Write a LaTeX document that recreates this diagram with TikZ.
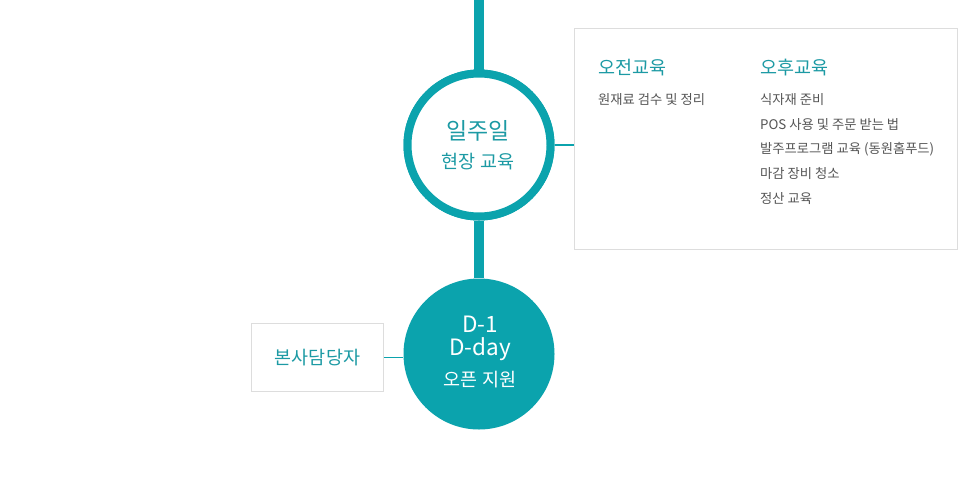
\documentclass[tikz,border=0pt]{standalone}
\usepackage{fontspec}
\setmainfont{Noto Sans CJK KR}
\definecolor{teal1}{HTML}{0BA3AD}
\definecolor{tealtxt}{HTML}{1C9AA4}
\definecolor{graytxt}{HTML}{555555}
\definecolor{boxline}{HTML}{DDDDDD}
\begin{document}
\begin{tikzpicture}[x=1pt,y=-1pt,
  ring/.style={circle,draw=teal1,line width=8pt,fill=white,minimum size=143pt,inner sep=0pt},
  disc/.style={circle,fill=teal1,minimum size=151pt,inner sep=0pt},
  panel/.style={draw=boxline,line width=1pt,fill=white},
  spine/.style={teal1,line width=10pt},
  link/.style={teal1,line width=1.2pt},
  head/.style={anchor=base west,text=tealtxt,font=\fontsize{18.5}{22}\selectfont,inner sep=0pt},
  item/.style={anchor=base west,text=graytxt,font=\fontsize{13.3}{16}\selectfont,inner sep=0pt}]
\useasboundingbox (0,0) rectangle (966,483);
\fill[white] (0,0) rectangle (966,483);
\coordinate (top) at (479,0);
% panels
\node[panel,minimum width=383pt,minimum height=221pt,anchor=north west] (p1) at (574,28) {};
\node[panel,minimum width=132pt,minimum height=68pt,anchor=north west] (p2) at (251,323) {};
% circles
\node[ring] (c1) at (479,145) {};
\node[disc] (c2) at (479,354) {};
% connectors
\draw[spine] (top) -- (c1.north);
\draw[spine] (c1.south) -- (c2.north);
\draw[link] (c1.east) -- (c1.east -| p1.west);
\draw[link] (p2.east) -- (p2.east -| c2.west);
\node[ring] at (c1) {};
% circle texts
\node[text=tealtxt,font=\fontsize{23}{26}\selectfont,anchor=base] (t1) at (478,139) {일주일};
\node[text=tealtxt,font=\fontsize{18.5}{22}\selectfont,anchor=base] (t2) at (478,168) {현장 교육};
\node[text=white,font=\fontsize{22.5}{26}\selectfont,anchor=base] (t3) at (480,332) {D-1};
\node[text=white,font=\fontsize{22.5}{26}\selectfont,anchor=base] (t4) at (480,355) {D-day};
\node[text=white,font=\fontsize{18.5}{22}\selectfont,anchor=base] (t5) at (480,386) {오픈 지원};
\node[text=tealtxt,font=\fontsize{18.5}{22}\selectfont] (t6) at (p2) {본사담당자};
% panel texts
\node[head] (h1) at (598,74) {오전교육};
\node[head] (h2) at (760,74) {오후교육};
\node[item] (a1) at (598,104) {원재료 검수 및 정리};
\node[item] (b1) at (760,104) {식자재 준비};
\node[item] (b2) at (760,129) {POS 사용 및 주문 받는 법};
\node[item] (b3) at (760,153) {발주프로그램 교육 (동원홈푸드)};
\node[item] (b4) at (760,178) {마감 장비 청소};
\node[item] (b5) at (760,203) {정산 교육};
\end{tikzpicture}
\end{document}
